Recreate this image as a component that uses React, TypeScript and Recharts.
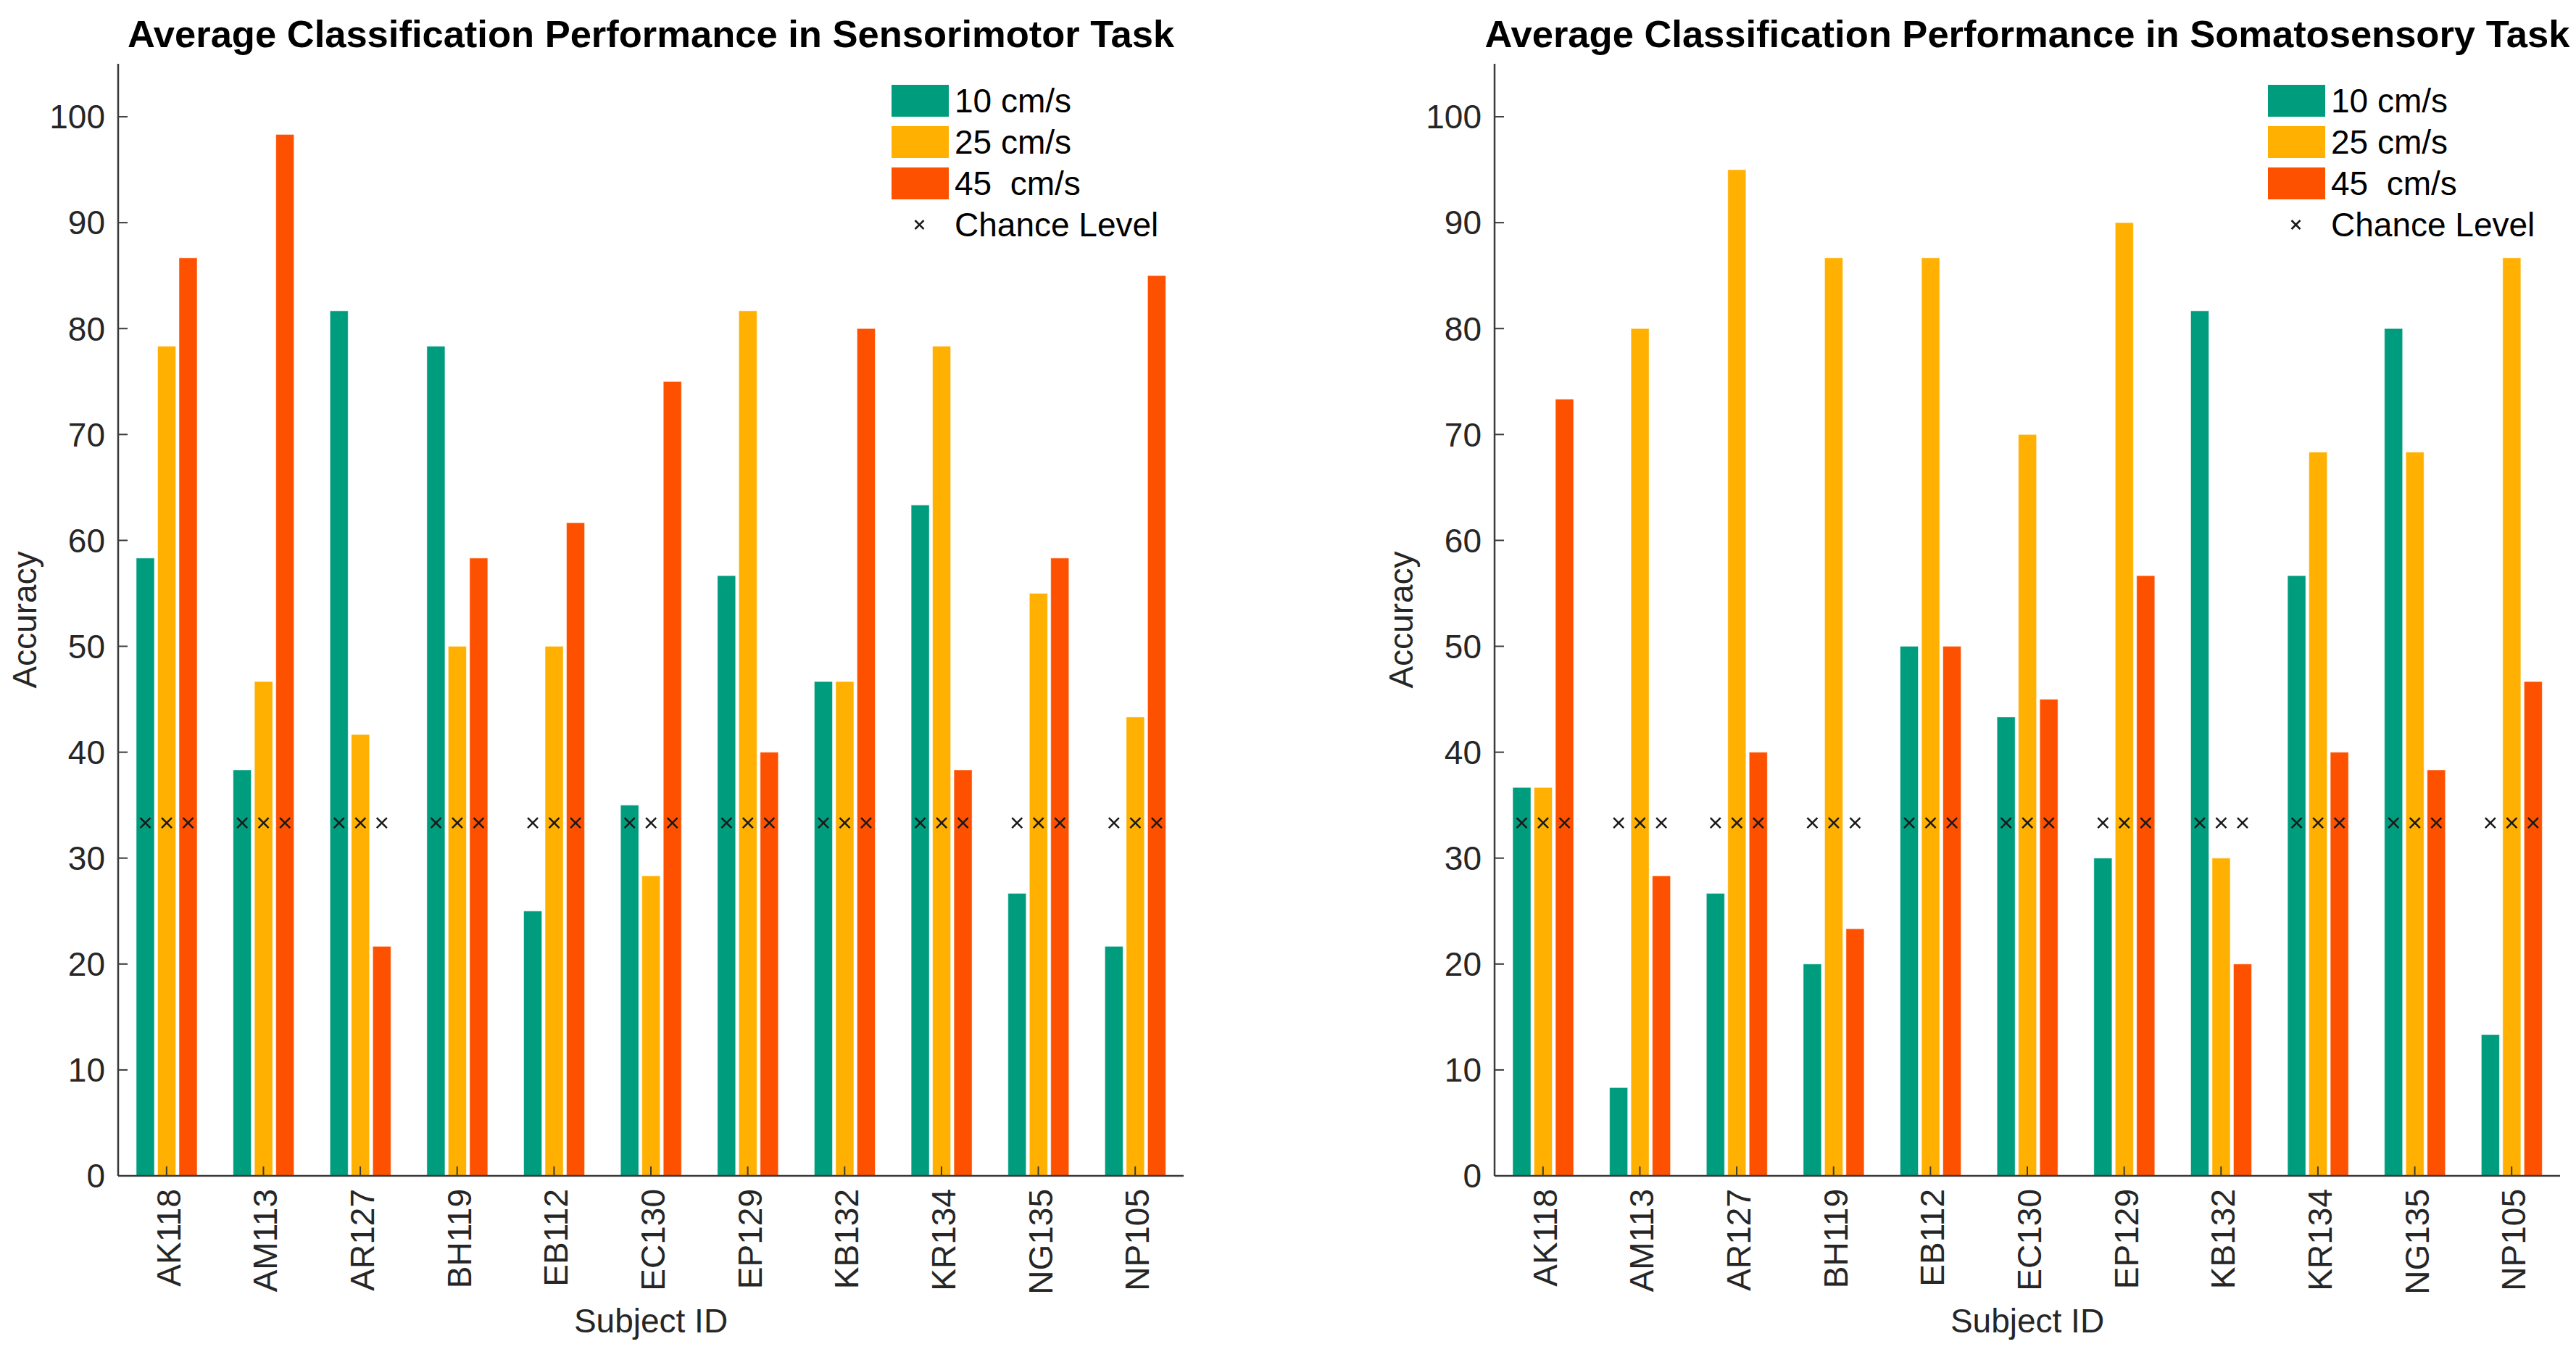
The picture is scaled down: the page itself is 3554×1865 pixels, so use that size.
import { Bar, BarChart, Label, Legend, XAxis, YAxis } from 'recharts'

const FONT = '"Liberation Sans", Arial, Helvetica, sans-serif'

const SUBJECTS = ['AK118', 'AM113', 'AR127', 'BH119', 'EB112', 'EC130', 'EP129', 'KB132', 'KR134', 'NG135', 'NP105']

// sensorimotor task, accuracy (%) per speed
const SENSORIMOTOR_10 = [58.33, 38.33, 81.67, 78.33, 25, 35, 56.67, 46.67, 63.33, 26.67, 21.67]
const SENSORIMOTOR_25 = [78.33, 46.67, 41.67, 50, 50, 28.33, 81.67, 46.67, 78.33, 55, 43.33]
const SENSORIMOTOR_45 = [86.67, 98.33, 21.67, 58.33, 61.67, 75, 40, 80, 38.33, 58.33, 85]

// somatosensory task
const SOMATOSENSORY_10 = [36.67, 8.33, 26.67, 20, 50, 43.33, 30, 81.67, 56.67, 80, 13.33]
const SOMATOSENSORY_25 = [36.67, 80, 95, 86.67, 86.67, 70, 90, 30, 68.33, 68.33, 86.67]
const SOMATOSENSORY_45 = [73.33, 28.33, 40, 23.33, 50, 45, 56.67, 20, 40, 38.33, 46.67]

const CHANCE_LEVEL = [33.33, 33.33, 33.33, 33.33, 33.33, 33.33, 33.33, 33.33, 33.33, 33.33, 33.33]

const Y_TICKS = [0, 10, 20, 30, 40, 50, 60, 70, 80, 90, 100]

const SERIES = [
  { key: 's10', name: '10 cm/s', color: '#009C7E' },
  { key: 's25', name: '25 cm/s', color: '#FFB000' },
  { key: 's45', name: '45  cm/s', color: '#FE5100' },
]

const AXIS_COLOR = '#3a3a3a'
const TEXT_COLOR = '#262626'

function buildRows(a: number[], b: number[], c: number[]) {
  return SUBJECTS.map((subject, i) => ({
    subject,
    s10: a[i],
    s25: b[i],
    s45: c[i],
    chance: CHANCE_LEVEL[i],
  }))
}

function Cross({ cx, cy, r = 7 }: { cx: number; cy: number; r?: number }) {
  return (
    <path
      d={`M${cx - r} ${cy - r}L${cx + r} ${cy + r}M${cx + r} ${cy - r}L${cx - r} ${cy + r}`}
      stroke="#1a1a1a"
      strokeWidth={2.5}
      fill="none"
    />
  )
}

// bar plus the chance-level cross, placed with the bar's own scale
function ChanceBar(props: any) {
  const { x, y, width, height, fill, payload, valueKey } = props
  const value = payload[valueKey]
  const base = y + height
  const cy = base - (payload.chance / value) * height
  return (
    <g>
      <rect x={x} y={y} width={width} height={height} fill={fill} stroke="#fff" strokeOpacity={0.5} strokeWidth={1} />
      <Cross cx={x + width / 2} cy={cy} />
    </g>
  )
}

function SubjectTick(props: any) {
  const { x, y, payload } = props
  const bx = x + 19
  return (
    <text
      x={bx}
      y={y}
      transform={`rotate(-90, ${bx}, ${y})`}
      textAnchor="end"
      fontSize={46}
      fill={TEXT_COLOR}
    >
      {payload.value}
    </text>
  )
}

function LegendBox() {
  const row = { display: 'flex', alignItems: 'center', height: 57 } as const
  const text = { fontSize: 46, lineHeight: '46px', color: '#000', whiteSpace: 'pre', marginLeft: 8 } as const
  return (
    <div style={{ fontFamily: FONT }}>
      {SERIES.map((s) => (
        <div key={s.key} style={row}>
          <div style={{ width: 79, height: 44, background: s.color }} />
          <span style={text}>{s.name}</span>
        </div>
      ))}
      <div style={row}>
        <svg width={79} height={44}>
          <Cross cx={38.5} cy={22} r={6} />
        </svg>
        <span style={text}>Chance Level</span>
      </div>
    </div>
  )
}

type PanelProps = {
  title: string
  left: number
  a: number[]
  b: number[]
  c: number[]
}

function Panel({ title, left, a, b, c }: PanelProps) {
  const data = buildRows(a, b, c)
  return (
    <div style={{ position: 'absolute', left, top: 0, width: 1655, height: 1865 }}>
      <div
        style={{
          position: 'absolute',
          left: 898 - 800,
          width: 1600,
          top: 21,
          textAlign: 'center',
          fontSize: 52.5,
          lineHeight: '52px',
          fontWeight: 'bold',
          color: '#000',
        }}
      >
        {title}
      </div>
      <BarChart
        width={1655}
        height={1865}
        data={data}
        margin={{ top: 88, right: 22, bottom: 0, left: 0 }}
        barSize={25}
        barGap={4.5}
      >
        <XAxis
          dataKey="subject"
          height={243}
          interval={0}
          axisLine={{ stroke: AXIS_COLOR, strokeWidth: 2.5 }}
          tickLine={{ stroke: AXIS_COLOR, strokeWidth: 2 }}
          tickSize={-13}
          tickMargin={31}
          tick={<SubjectTick />}
        >
          <Label
            content={(p: any) => {
              const vb = p.viewBox || { x: 163, y: 1622, width: 1470 }
              return (
                <text x={vb.x + vb.width / 2} y={vb.y + 216} textAnchor="middle" fontSize={46} fill={TEXT_COLOR}>
                  Subject ID
                </text>
              )
            }}
          />
        </XAxis>
        <YAxis
          width={163}
          domain={[0, 105]}
          ticks={Y_TICKS}
          interval={0}
          axisLine={{ stroke: AXIS_COLOR, strokeWidth: 2.5 }}
          tickLine={{ stroke: AXIS_COLOR, strokeWidth: 2 }}
          tickSize={-13}
          tickMargin={31}
          tick={{ fontSize: 46, fill: TEXT_COLOR }}
        >
          <Label
            content={(p: any) => {
              const vb = p.viewBox || { x: 0, y: 88, height: 1534 }
              const lx = vb.x + 50
              const ly = vb.y + vb.height / 2
              return (
                <text x={lx} y={ly} transform={`rotate(-90, ${lx}, ${ly})`} textAnchor="middle" fontSize={46} fill={TEXT_COLOR}>
                  Accuracy
                </text>
              )
            }}
          />
        </YAxis>
        <Legend
          layout="vertical"
          align="center"
          verticalAlign="middle"
          wrapperStyle={{ left: 1230, top: 110.5, width: 420, height: 228 }}
          content={() => <LegendBox />}
        />
        {SERIES.map((s) => (
          <Bar
            key={s.key}
            dataKey={s.key}
            name={s.name}
            fill={s.color}
            isAnimationActive={false}
            shape={(p: any) => <ChanceBar {...p} valueKey={s.key} />}
          />
        ))}
      </BarChart>
    </div>
  )
}

export default function App() {
  return (
    <div
      style={{
        position: 'absolute',
        left: 0,
        top: 0,
        width: 3554,
        height: 1865,
        background: '#fff',
        fontFamily: FONT,
      }}
    >
      <Panel
        title="Average Classification Performance in Sensorimotor Task"
        left={0}
        a={SENSORIMOTOR_10}
        b={SENSORIMOTOR_25}
        c={SENSORIMOTOR_45}
      />
      <Panel
        title="Average Classification Performance in Somatosensory Task"
        left={1899}
        a={SOMATOSENSORY_10}
        b={SOMATOSENSORY_25}
        c={SOMATOSENSORY_45}
      />
    </div>
  )
}
